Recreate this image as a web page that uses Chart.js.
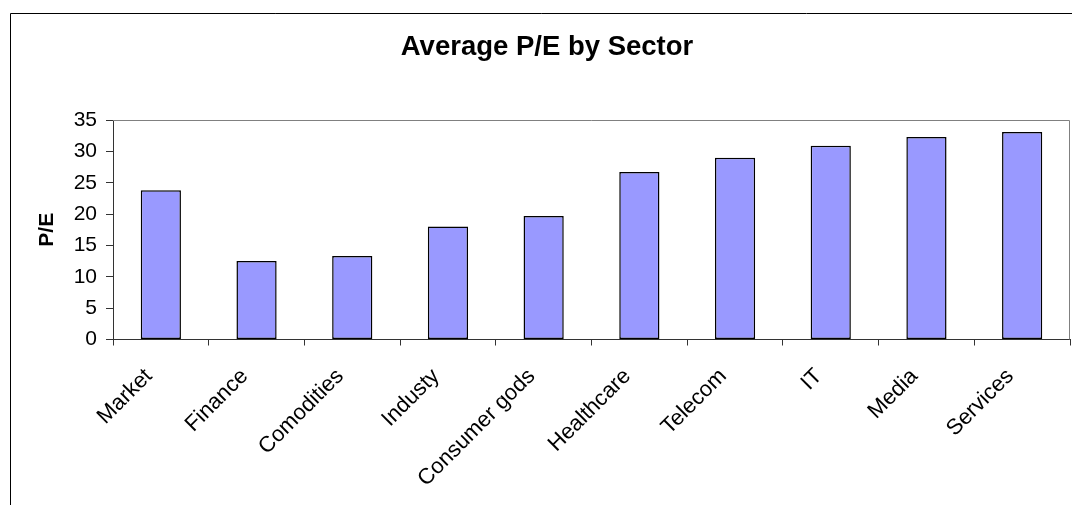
<!DOCTYPE html>
<html>
<head>
<meta charset="utf-8">
<title>Average P/E by Sector</title>
<script src="https://cdn.jsdelivr.net/npm/chart.js@4/dist/chart.umd.min.js"></script>
<style>
  html, body { margin: 0; padding: 0; background: #fff; overflow: hidden; }
  #wrap { position: relative; width: 1072px; height: 505px; }
</style>
</head>
<body>
<div id="wrap"><canvas id="chart" width="1072" height="505"></canvas></div>
<script>
// ── Data ──────────────────────────────────────────────────
const sectors = ["Market", "Finance", "Comodities", "Industy", "Consumer gods",
                 "Healthcare", "Telecom", "IT", "Media", "Services"];
const peValues = [23.8, 12.5, 13.3, 18.0, 19.7, 26.7, 29.0, 30.9, 32.3, 33.1];
const yTicks = [0, 5, 10, 15, 20, 25, 30, 35];

const FONT = '"Liberation Sans", Arial, sans-serif';
const AXIS = "#333";

// ── Frame: outer chart border + grey plot border ─────────
const framePlugin = {
  id: "frame",
  beforeDraw(chart) {
    const { ctx } = chart;
    ctx.save();
    ctx.strokeStyle = "#000";
    ctx.lineWidth = 1;
    ctx.beginPath();
    ctx.moveTo(10.5, chart.height);
    ctx.lineTo(10.5, 13.5);
    ctx.lineTo(chart.width, 13.5);
    ctx.stroke();
    ctx.restore();
  },
  beforeDatasetsDraw(chart) {
    const { ctx, chartArea: a } = chart;
    ctx.save();
    ctx.strokeStyle = "#808080";
    ctx.lineWidth = 1;
    ctx.beginPath();
    ctx.moveTo(a.left, a.top + 0.5);
    ctx.lineTo(a.right - 0.5, a.top + 0.5);
    ctx.lineTo(a.right - 0.5, a.bottom);
    ctx.stroke();
    ctx.restore();
  },
};

// ── Chart ─────────────────────────────────────────────────
// left padding pushes the title centre right, like the original (box is cut off on the right)
new Chart(document.getElementById("chart"), {
  type: "bar",
  data: {
    labels: sectors,
    datasets: [{
      label: "P/E",
      data: peValues,
      backgroundColor: "#9999ff",
      borderColor: "#000",
      borderWidth: 1.5,
      borderSkipped: false,
      categoryPercentage: 1,
      barPercentage: 0.42,
    }],
  },
  options: {
    responsive: false,
    animation: false,
    layout: { padding: { left: 24, right: 2, top: 0, bottom: 0 } },
    plugins: {
      legend: { display: false },
      tooltip: { enabled: false },
      title: {
        display: true,
        text: "Average P/E by Sector",
        color: "#000",
        font: { family: FONT, size: 27.5, weight: "bold" },
        padding: { top: 31, bottom: 56 },
      },
    },
    scales: {
      x: {
        afterFit: s => { s.height = 505 - 339.5; },
        grid: { offset: true, drawOnChartArea: false, tickLength: 6, color: AXIS },
        border: { color: AXIS, width: 1 },
        ticks: {
          autoSkip: false, minRotation: 45, maxRotation: 45,
          color: "#000", padding: 18, labelOffset: -12,
          font: { family: FONT, size: 22 },
        },
      },
      y: {
        min: 0, max: 35,
        afterFit: s => { s.width = 89; },
        afterBuildTicks: s => { s.ticks = yTicks.map(v => ({ value: v })); },
        grid: { drawOnChartArea: false, tickLength: 7, color: AXIS },
        border: { color: AXIS, width: 1 },
        ticks: { color: "#000", padding: 9, font: { family: FONT, size: 21 } },
        title: {
          display: true, text: "P/E", color: "#000",
          font: { family: FONT, size: 21, weight: "bold" },
          padding: { top: 10.5, bottom: 0 },
        },
      },
    },
  },
  plugins: [framePlugin],
});
</script>
</body>
</html>
